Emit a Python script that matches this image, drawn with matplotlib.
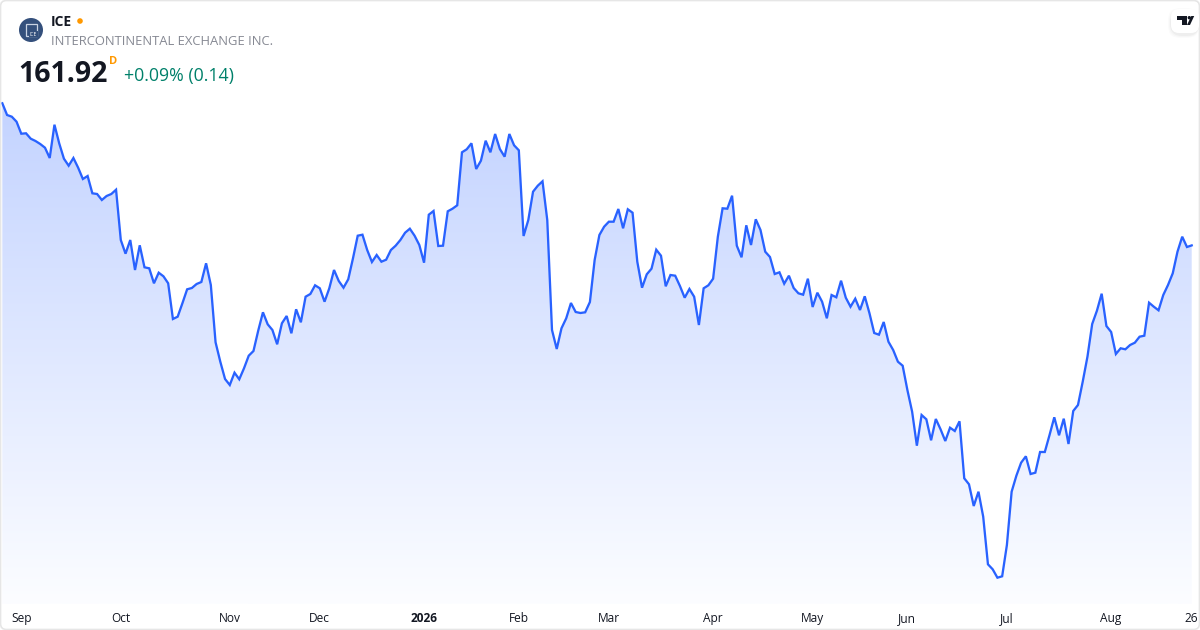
import numpy as np
import matplotlib
matplotlib.use('Agg')
import matplotlib.pyplot as plt
from matplotlib.colors import LinearSegmentedColormap
from matplotlib.patches import Circle, FancyBboxPatch, Polygon, Rectangle

W, H = 1200, 630
LINE_COLOR = '#2962ff'

# daily closes
PRICES = [
    190.34, 188.00, 187.66, 186.66, 184.26, 184.34, 183.26, 182.80, 182.20, 181.46,
    179.40, 186.06, 182.34, 179.26, 177.86, 179.40, 177.46, 175.20, 175.80, 172.34,
    172.20, 171.00, 171.80, 172.20, 173.06, 163.00, 160.26, 163.00, 157.00, 161.94,
    157.54, 157.34, 154.34, 156.46, 155.74, 154.34, 147.20, 147.66, 150.34, 153.14,
    153.40, 154.20, 154.60, 158.34, 154.00, 142.54, 138.66, 135.20, 134.00, 136.46,
    135.14, 137.34, 139.86, 140.80, 144.86, 148.54, 146.14, 145.00, 142.14, 146.34,
    147.80, 144.34, 149.14, 146.54, 151.66, 152.20, 153.94, 153.34, 150.66, 153.34,
    157.00, 154.80, 153.46, 155.14, 159.34, 163.86, 164.06, 161.00, 158.60, 160.00,
    158.66, 159.06, 161.00, 161.86, 163.00, 164.46, 165.26, 163.86, 162.00, 158.46,
    168.06, 168.80, 161.80, 161.86, 168.74, 169.26, 169.94, 180.54, 181.14, 182.34,
    177.20, 178.86, 182.86, 180.54, 184.20, 181.20, 179.66, 184.20, 181.94, 180.94,
    163.80, 167.00, 172.66, 173.86, 174.74, 167.00, 145.00, 141.20, 145.34, 147.34,
    150.40, 148.60, 148.40, 148.54, 150.60, 159.00, 164.00, 165.66, 166.66, 166.66,
    169.20, 165.34, 169.14, 168.46, 158.66, 153.46, 156.14, 157.26, 161.06, 159.86,
    153.74, 156.00, 155.86, 153.80, 151.46, 153.20, 151.66, 146.00, 153.34, 153.94,
    155.26, 163.66, 169.34, 169.26, 171.86, 161.86, 159.54, 165.94, 162.00, 167.14,
    165.00, 160.66, 159.60, 156.20, 156.54, 154.26, 155.86, 153.40, 152.34, 152.06,
    155.26, 149.60, 152.46, 150.66, 147.34, 152.00, 151.54, 154.86, 151.46, 149.66,
    151.26, 149.00, 151.74, 148.34, 144.40, 144.06, 146.60, 142.66, 141.00, 138.66,
    137.86, 133.00, 128.66, 121.86, 128.00, 127.14, 122.94, 127.20, 125.14, 122.80,
    125.46, 124.80, 126.74, 115.34, 114.14, 109.80, 112.66, 107.66, 98.14, 97.14,
    95.46, 95.74, 102.00, 112.66, 115.86, 118.46, 119.74, 116.20, 116.46, 120.60,
    120.60, 124.00, 127.54, 123.94, 127.26, 122.20, 128.80, 130.00, 134.66, 139.66,
    146.20, 148.86, 152.26, 145.80, 144.60, 140.20, 141.34, 141.14, 142.00, 142.46,
    143.66, 143.86, 150.46, 149.66, 148.94, 152.00, 154.00, 156.34, 160.66, 163.66,
    161.60, 161.92,
]
TICK_DAYS = [4, 25, 48, 67, 89, 109, 128, 150, 171, 191, 212, 234, 251]
TICK_LABELS = ['Sep', 'Oct', 'Nov', 'Dec', '2026', 'Feb', 'Mar', 'Apr', 'May', 'Jun', 'Jul', 'Aug', '26']

plt.rcParams['font.family'] = ['Open Sans', 'DejaVu Sans']

fig = plt.figure(figsize=(12, 6.3), dpi=100, facecolor='white')

# price axes: left/right edge sit on first/last day, y limits on the pixel rows
left, right = 2.33, 1191.7
top_px, bottom_px = 100, 604
ax = fig.add_axes([left / W, 1 - bottom_px / H, (right - left) / W, (bottom_px - top_px) / H])
ax.set_xlim(0, 251)
ax.set_ylim(90.2, 191)
ax.patch.set_alpha(0)
for s in ax.spines.values():
    s.set_visible(False)

days = np.arange(len(PRICES))
prices = np.array(PRICES)

# area under the line, with vertical gradient
cmap = LinearSegmentedColormap.from_list('area', ['#c3d3ff', '#fcfdff'])
grad = np.linspace(0, 1, 256).reshape(-1, 1)
im = ax.imshow(grad, cmap=cmap, aspect='auto', extent=(0, 251, 90.2, 191), zorder=1)
area = ax.fill_between(days, prices, 90.2, color='none')
im.set_clip_path(area.get_paths()[0], transform=ax.transData)
ax.plot(days, prices, color=LINE_COLOR, lw=1.65, zorder=3, clip_on=False, solid_joinstyle='miter')

ax.set_yticks([])
ax.set_xticks(TICK_DAYS, TICK_LABELS)
ax.tick_params(axis='x', length=0, pad=5.8, labelsize=8.6, labelcolor='#131722')
ax.get_xticklabels()[4].set_fontweight('bold')

# header, logos and frame in pixel coordinates
deco = fig.add_axes([0, 0, 1, 1], zorder=5)
deco.set_xlim(0, W)
deco.set_ylim(H, 0)
deco.axis('off')

deco.add_patch(FancyBboxPatch((0.5, 0.5), W - 1, H - 1, boxstyle='round,pad=0,rounding_size=6',
                              fc='none', ec='#e6e6e6', lw=1.2))

deco.add_patch(Circle((31, 30), 12, fc='#34507c', ec='none'))
deco.add_patch(Rectangle((25.5, 23.5), 11, 12, fc='none', ec='#c9d3e3', lw=0.9))
deco.add_patch(Rectangle((29, 31), 9, 6, fc='#34507c', ec='none'))
deco.text(33.5, 34.5, 'ICE', color='white', fontsize=3.6, ha='center', va='center')

deco.text(51, 22, 'ICE', fontsize=10, fontweight='bold', color='#131722', va='center')
deco.add_patch(Circle((80, 21), 2.8, fc='#ff9800', ec='none'))
deco.text(51, 41.5, 'INTERCONTINENTAL EXCHANGE INC.', fontsize=9.4, color='#868993', va='center')
deco.text(18.5, 74, '161.92', fontsize=20.5, fontweight='bold', color='#131722', va='center')
deco.text(109, 62, 'D', fontsize=8, fontweight='bold', color='#ff9800', va='center')
deco.text(124, 76.5, '+0.09% (0.14)', fontsize=12.8, color='#00806a', va='center')

# TradingView badge with soft shadow
for i, a in enumerate([0.015, 0.02, 0.03]):
    grow = 3 - i
    deco.add_patch(FancyBboxPatch((1171 - grow, 9 - grow + 2), 28 + grow, 24 + 2 * grow,
                                  boxstyle='round,pad=0,rounding_size=12', fc='black', ec='none',
                                  alpha=a))
deco.add_patch(FancyBboxPatch((1171, 9), 28, 24, boxstyle='round,pad=0,rounding_size=8',
                              fc='white', ec='none'))
deco.add_patch(Polygon([(1176.7, 16), (1186.5, 16), (1186.5, 25), (1181.5, 25), (1181.5, 19.7), (1176.7, 19.7)],
                       fc='#131722', ec='none'))
deco.add_patch(Circle((1189.3, 17.7), 1.7, fc='#131722', ec='none'))
deco.add_patch(Polygon([(1191.3, 16), (1194.2, 16), (1190, 25), (1187, 25)], fc='#131722', ec='none'))

fig.savefig('out.png', dpi=100, facecolor='white')
